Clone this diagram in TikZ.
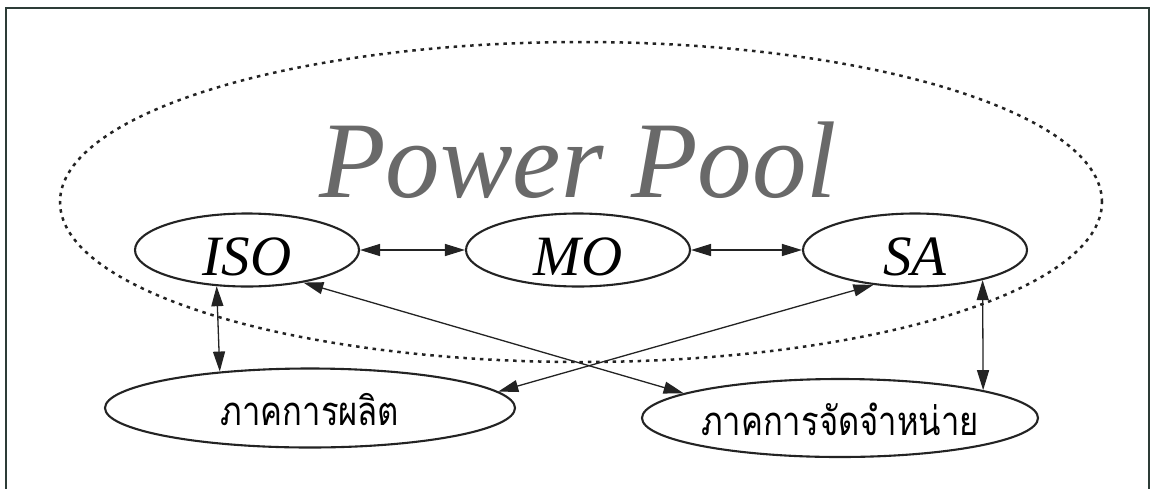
\documentclass[tikz,border=0pt]{standalone}
\usepackage{fontspec}
\setmainfont{Liberation Serif}
\newfontfamily\thaifont[Script=Thai, FakeStretch=0.82]{Loma}
\usetikzlibrary{shapes.geometric,arrows.meta}
\definecolor{framec}{RGB}{45,60,55}
\definecolor{ppgray}{RGB}{105,105,105}
\definecolor{linec}{RGB}{35,35,35}
\begin{document}
\begin{tikzpicture}[x=1pt,y=-1pt,
  ent/.style={draw=linec, line width=2.1pt, ellipse, inner sep=0pt,
    minimum width=224pt, minimum height=73pt,
    font=\itshape\fontsize{57}{57}\selectfont, text height=50pt, text depth=0pt},
  sect/.style={draw=linec, line width=2.1pt, ellipse, inner sep=0pt,
    font=\thaifont\fontsize{40}{40}\selectfont, text height=34pt, text depth=0pt},
  link/.style={{Triangle[length=20pt,width=12pt]}-{Triangle[length=20pt,width=12pt]},
    line width=1.3pt, draw=linec},
  poolstyle/.style={ellipse, draw=linec, line width=2.5pt, dash pattern=on 3.5pt off 4.8pt,
    inner sep=0pt, minimum width=1042pt, minimum height=320pt}]
\useasboundingbox (0,0) rectangle (1159,488);
\fill[white] (0,0) rectangle (1159,488);
\draw[framec, line width=2.5pt] (6,495) -- (6,8) -- (1149,8) -- (1149,495);
\node[poolstyle] (pool) at (581,202) {};
\node[font=\itshape\fontsize{109}{109}\selectfont, text=ppgray, anchor=base] (title) at (578,197) {Power Pool};
\node[ent] (iso) at (247,250) {ISO};
\node[ent] (mo) at (578,250) {MO};
\node[ent] (sa) at (915,250) {SA};
\node[sect, minimum width=410pt, minimum height=79pt] (gen) at (310,408) {ภาคการผลิต};
\node[sect, minimum width=396pt, minimum height=78pt] (dist) at (840,418) {ภาคการจัดจำหน่าย};
\draw[link] (iso) -- (mo);
\draw[link] (mo) -- (sa);
\draw[link] (iso.230) -- (gen.158.5);
\draw[link] (sa.336) -- (dist.11.3);
\draw[link] (iso.-30) -- (dist.171.4);
\draw[link] (sa.220.4) -- (gen.5.7);
\end{tikzpicture}
\end{document}
